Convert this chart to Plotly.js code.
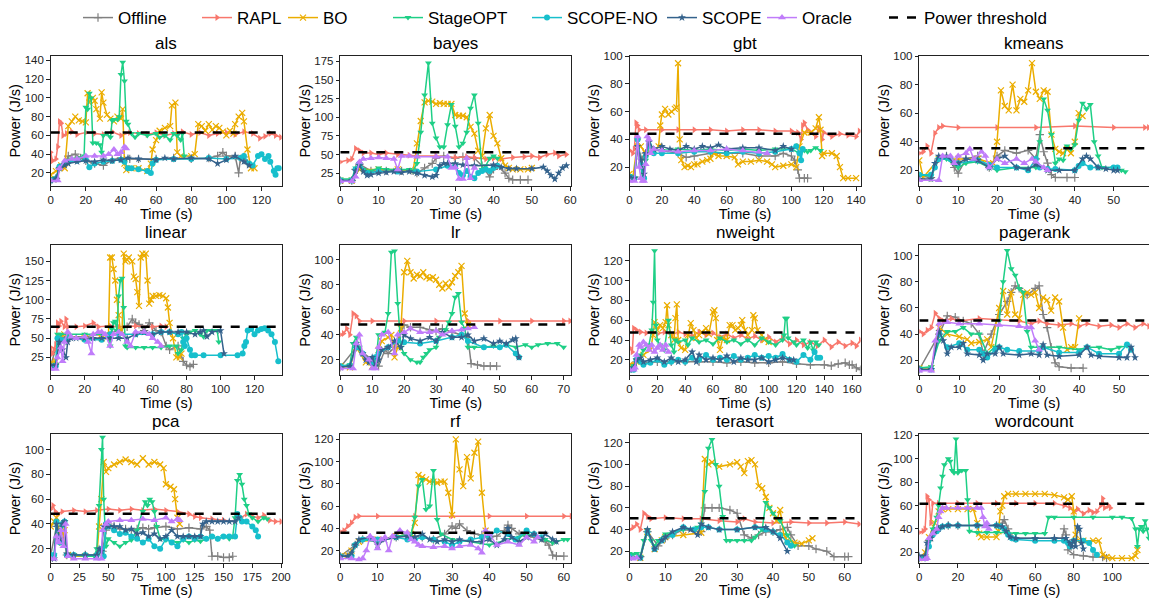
<!DOCTYPE html>
<html><head><meta charset="utf-8">
<script src="https://cdn.plot.ly/plotly-3.0.1.min.js"></script>
<style>html,body{margin:0;padding:0;background:#fff}#chart{width:1149px;height:598px}</style>
</head><body><div id="chart"></div>
<script>
const workloads = ['als','bayes','gbt','kmeans','linear','lr','nweight','pagerank','pca','rf','terasort','wordcount'];
const seriesNames = ['Offline','RAPL','BO','StageOPT','SCOPE-NO','SCOPE','Oracle'];
const thresholds = [63, 53, 44, 35.5, 65, 48.3, 47.5, 50.5, 48.3, 36, 50.5, 61.5];

// each series: [time (s), power (J/s)] pairs
const als = {
  'Offline': [[0,12],[3,14],[5,25],[8,30],[10,38],[14,40],[17,36],[20,33],[25,30],[30,28],[35,34],[40,36],[45,35],[50,35],[60,35],[70,36],[80,35],[90,36],[95,38],[98,42],[100,38],[105,38],[107,20],[108,35],[110,37],[112,30]],
  'RAPL': [[0,42],[1,33],[3,35],[4,48],[5,75],[6,73],[7,60],[9,62],[12,64],[15,61],[20,63],[25,62],[30,61],[35,64],[40,60],[45,63],[50,62],[55,61],[60,63],[65,60],[70,62],[75,64],[80,61],[85,63],[90,60],[95,62],[100,63],[105,61],[110,64],[115,62],[119,57],[122,59],[125,62],[128,60],[131,58]],
  'BO': [[0,18],[3,22],[6,28],[8,25],[10,70],[12,75],[14,80],[16,76],[18,75],[20,74],[21,105],[22,95],[24,100],[25,97],[26,88],[28,78],[29,106],[30,95],[32,82],[34,78],[36,75],[38,80],[40,78],[41,88],[42,30],[43,23],[46,25],[50,25],[55,22],[57,30],[58,45],[60,55],[62,65],[65,68],[68,70],[69,92],[71,95],[72,42],[74,38],[80,38],[82,40],[84,72],[86,70],[88,65],[90,72],[92,66],[94,70],[96,68],[98,64],[100,60],[102,65],[104,62],[105,72],[107,80],[109,84],[110,75],[112,45],[114,25],[116,25]],
  'StageOPT': [[0,14],[3,15],[5,25],[8,30],[12,35],[16,36],[19,38],[20,90],[21,88],[22,105],[23,100],[24,52],[26,52],[28,50],[29,42],[30,60],[32,62],[34,58],[35,76],[36,77],[38,77],[39,80],[40,125],[41,138],[42,118],[43,75],[44,72],[46,62],[48,58],[50,62],[55,60],[60,62],[62,58],[65,60],[68,55],[70,62],[72,60],[74,55],[75,62],[76,38]],
  'SCOPE-NO': [[0,12],[3,14],[5,27],[8,30],[10,32],[15,33],[20,34],[22,26],[25,30],[30,32],[35,33],[40,34],[42,32],[44,25],[46,25],[50,24],[55,22],[57,20],[58,30],[60,34],[70,35],[80,35],[90,36],[100,35],[108,36],[110,38],[113,30],[115,28],[118,38],[120,40],[122,35],[124,38],[125,32],[127,22],[128,18],[129,25],[130,25]],
  'SCOPE': [[0,12],[3,14],[5,25],[8,28],[10,30],[15,32],[20,33],[25,32],[30,34],[35,33],[40,34],[44,36],[50,35],[60,34],[65,36],[70,35],[80,36],[90,35],[95,30],[100,34],[105,38],[110,32],[113,28]],
  'Oracle': [[0,12],[4,12],[5,25],[8,33],[12,35],[15,35],[20,38],[25,38],[30,38],[33,40],[36,45],[38,40],[40,42],[42,48],[43,46]]
};
const bayes = {
  'Offline': [[0,15],[3,15],[4,30],[5,37],[8,28],[12,28],[16,28],[19,28],[20,25],[22,32],[24,38],[25,45],[27,48],[30,45],[32,47],[35,45],[37,35],[39,20],[40,30],[41,35],[43,25],[44,18],[45,16],[47,16],[49,16]],
  'RAPL': [[0,40],[2,42],[3,44],[4,58],[5,55],[6,52],[8,52],[10,50],[12,52],[15,50],[18,49],[20,48],[25,48],[30,46],[33,47],[35,46],[38,44],[40,45],[42,44],[45,46],[48,47],[50,48],[52,46],[54,50],[56,52],[57,48],[59,50]],
  'BO': [[0,15],[3,15],[5,30],[10,30],[15,30],[19,28],[20,65],[21,95],[22,120],[23,122],[24,121],[25,118],[26,119],[27,118],[28,118],[29,118],[30,103],[31,102],[32,102],[33,100],[34,87],[35,78],[36,55],[37,48],[38,85],[39,103],[40,75],[41,65],[42,45],[43,35],[44,32],[45,30],[47,30],[49,30],[50,32]],
  'StageOPT': [[0,17],[3,17],[4,32],[5,38],[6,30],[8,28],[10,32],[12,30],[15,30],[18,30],[19,28],[20,38],[21,80],[22,130],[23,173],[24,92],[25,72],[26,60],[27,60],[28,90],[29,117],[30,88],[31,60],[32,65],[33,80],[34,112],[35,130],[36,92],[37,30],[38,35],[39,45],[40,48],[41,45]],
  'SCOPE-NO': [[0,15],[3,15],[4,30],[5,38],[7,25],[10,27],[15,27],[20,27],[25,30],[28,35],[30,35],[31,25],[32,22],[33,28],[34,20],[35,18],[36,25],[37,28],[38,30],[39,28],[40,32],[41,35]],
  'SCOPE': [[0,15],[3,15],[4,28],[5,35],[6,27],[7,22],[8,23],[10,25],[12,26],[14,27],[16,26],[18,27],[20,25],[22,22],[24,20],[25,22],[26,35],[27,38],[28,38],[30,38],[32,36],[35,35],[40,36],[42,33],[44,31],[46,31],[50,31],[53,33],[54,28],[55,22],[56,17],[57,25],[58,32],[59,35]],
  'Oracle': [[0,14],[3,14],[4,20],[5,40],[6,44],[8,45],[10,46],[12,45],[14,44],[15,30],[16,48],[18,48],[20,47],[25,47],[28,47],[29,32],[30,33],[31,17],[32,17],[33,45],[34,18],[35,32]]
};
const gbt = {
  'Offline': [[0,14],[3,13],[5,35],[8,25],[10,30],[15,32],[20,32],[30,30],[35,27],[40,28],[50,30],[60,30],[70,30],[80,28],[90,28],[95,30],[100,28],[102,25],[104,18],[105,12],[108,12],[110,12]],
  'RAPL': [[0,32],[2,30],[3,33],[4,52],[5,50],[6,47],[10,47],[20,47],[30,47],[40,47],[50,47],[60,46],[70,47],[80,47],[90,46],[100,46],[104,45],[106,40],[107,50],[108,52],[110,47],[112,45],[115,42],[117,48],[119,40],[120,45],[125,42],[130,44],[135,43],[140,42],[142,46]],
  'BO': [[0,15],[2,12],[5,38],[7,35],[10,30],[15,32],[18,35],[19,50],[20,58],[22,62],[24,58],[26,60],[28,62],[29,63],[30,95],[31,40],[32,25],[34,20],[36,21],[38,20],[40,22],[42,22],[45,24],[48,25],[50,26],[52,30],[55,28],[60,28],[65,27],[67,22],[70,24],[75,24],[80,25],[85,24],[88,22],[90,20],[95,21],[100,22],[103,20],[105,35],[108,45],[112,45],[115,48],[117,56],[118,47],[119,28],[120,30],[125,30],[128,28],[130,20],[132,12],[135,12],[140,12]],
  'StageOPT': [[0,14],[3,12],[5,40],[7,20],[8,12],[10,25],[12,35],[15,33],[20,32],[30,33],[40,32],[50,33],[60,32],[70,33],[80,32],[90,33],[100,33],[105,30],[108,32],[110,31],[112,32],[115,34],[118,32]],
  'SCOPE-NO': [[0,13],[3,12],[5,40],[7,22],[9,12],[10,28],[12,36],[15,30],[20,30],[30,30],[40,31],[50,31],[60,30],[70,31],[80,30],[90,31],[100,33],[103,35],[105,30],[106,25],[107,33]],
  'SCOPE': [[0,13],[3,12],[5,35],[7,25],[9,15],[10,30],[12,38],[15,33],[20,35],[25,33],[30,32],[35,35],[40,33],[45,35],[50,34],[55,36],[60,33],[70,34],[80,34],[90,32],[95,35],[100,33]],
  'Oracle': [[0,10],[3,10],[5,42],[6,20],[7,12],[8,10],[9,10],[10,22],[11,42],[12,40],[13,30],[15,33],[20,32],[30,31],[40,32],[50,32],[60,33],[70,32],[80,31],[85,30]]
};
const kmeans = {
  'Offline': [[0,16],[3,15],[5,28],[7,30],[9,22],[10,18],[12,28],[15,30],[18,22],[20,30],[22,34],[25,32],[28,34],[30,28],[31,45],[32,33],[33,25],[34,17],[35,15],[38,15],[40,15]],
  'RAPL': [[0,32],[1,33],[2,37],[3,32],[4,46],[5,50],[6,51],[10,50],[20,50],[30,50],[40,51],[50,50],[58,50],[59,50]],
  'BO': [[0,27],[1,15],[5,28],[10,28],[15,28],[19,25],[20,40],[21,76],[22,65],[23,62],[24,80],[25,62],[26,70],[27,68],[28,76],[29,95],[30,75],[31,70],[32,76],[33,75],[34,45],[35,35],[36,33],[37,32],[38,35],[39,32],[40,40],[41,60],[42,58]],
  'StageOPT': [[0,17],[3,16],[5,28],[7,28],[10,22],[12,25],[15,26],[18,22],[20,20],[25,22],[30,22],[31,40],[32,70],[33,62],[34,45],[35,25],[36,28],[37,27],[38,37],[39,35],[40,38],[41,55],[42,67],[43,63],[44,66],[45,40],[46,30],[47,22],[50,22],[52,20],[53,19]],
  'SCOPE-NO': [[0,17],[3,17],[4,22],[5,28],[8,28],[10,25],[15,27],[18,24],[20,22],[25,22],[28,20],[30,28],[31,22],[33,21],[35,21],[40,20],[41,23],[42,25],[44,22],[46,22],[50,22],[51,22]],
  'SCOPE': [[0,14],[3,14],[4,25],[5,30],[7,30],[9,25],[10,25],[12,28],[15,27],[18,22],[20,28],[22,30],[25,22],[28,21],[30,24],[33,20],[36,20],[40,20],[42,28],[43,30],[44,28],[46,22],[48,21],[50,20],[51,20]],
  'Oracle': [[0,13],[5,13],[6,30],[8,30],[9,25],[10,30],[12,32],[13,35],[14,28],[16,33],[17,30],[18,22],[20,28],[22,25],[25,28],[27,25],[29,28],[30,26],[32,22],[33,20]]
};
const linear = {
  'Offline': [[0,15],[5,50],[10,52],[20,52],[30,55],[40,60],[45,65],[48,75],[50,70],[52,68],[55,60],[58,70],[60,65],[62,60],[65,58],[68,40],[70,35],[75,40],[78,20],[80,15],[82,13],[84,16]],
  'RAPL': [[0,38],[1,30],[2,35],[3,42],[4,70],[5,66],[6,72],[8,65],[9,75],[10,65],[15,65],[20,66],[25,70],[28,65],[35,66],[40,65],[50,66],[60,65],[65,66],[68,65]],
  'BO': [[0,18],[3,20],[5,50],[8,55],[10,52],[20,50],[30,50],[34,52],[35,155],[36,155],[37,140],[38,125],[39,100],[40,80],[41,60],[42,55],[43,160],[44,150],[45,152],[46,155],[48,150],[49,130],[50,127],[51,110],[52,92],[53,155],[54,160],[55,157],[56,160],[57,125],[58,95],[59,100],[60,105],[62,105],[64,106],[66,105],[68,102],[69,90],[70,70],[72,50],[74,25],[76,25],[77,30]],
  'StageOPT': [[0,15],[3,16],[4,55],[6,55],[10,55],[20,55],[30,55],[34,54],[35,40],[36,62],[37,70],[38,72],[39,60],[40,105],[41,125],[42,128],[43,90],[44,40],[45,38],[50,38],[55,38],[60,38],[65,38],[70,40],[74,40],[75,30],[77,35],[78,50],[80,55],[82,58],[85,60],[88,55],[90,52],[92,60],[95,60],[98,60],[99,45]],
  'SCOPE-NO': [[0,12],[3,14],[4,50],[6,48],[10,50],[20,48],[30,48],[35,55],[40,55],[50,55],[60,55],[65,58],[70,58],[75,55],[77,58],[78,45],[79,40],[80,50],[82,35],[83,28],[85,28],[90,28],[100,28],[110,28],[113,30],[114,40],[115,45],[116,60],[118,62],[120,55],[122,60],[124,62],[126,63],[128,60],[130,55],[132,45],[134,20]],
  'SCOPE': [[0,15],[3,15],[5,45],[7,35],[9,25],[10,45],[12,50],[15,50],[20,50],[25,50],[30,50],[35,50],[40,50],[45,50],[50,55],[55,58],[60,55],[65,58],[70,58],[75,58],[80,58],[85,55],[88,58],[90,60],[92,52],[95,58],[100,60],[102,30]],
  'Oracle': [[0,10],[3,10],[4,25],[6,38],[7,20],[8,45],[10,58],[12,52],[15,50],[20,52],[22,45],[24,30],[25,55],[28,58],[30,58],[32,55],[35,40],[37,55],[40,58],[42,55],[45,45],[47,40],[50,58],[55,58],[58,55],[60,50],[63,45],[65,40]]
};
const lr = {
  'Offline': [[0,14],[5,30],[10,20],[12,15],[14,28],[15,25],[17,30],[20,48],[22,46],[25,46],[28,44],[30,43],[32,45],[35,42],[38,40],[40,38],[41,17],[43,16],[45,15],[47,15],[49,15]],
  'RAPL': [[0,40],[1,41],[2,45],[3,40],[4,57],[5,55],[6,51],[10,51],[20,51],[30,51],[40,51],[50,51],[60,51],[70,51],[72,51]],
  'BO': [[0,15],[3,14],[5,30],[8,18],[10,15],[12,28],[13,35],[15,38],[16,40],[17,22],[18,30],[19,45],[20,90],[21,99],[22,90],[23,85],[24,88],[25,87],[26,90],[27,86],[28,85],[29,86],[30,84],[31,80],[32,77],[33,81],[34,78],[35,82],[36,87],[37,90],[38,95],[39,57],[40,48]],
  'StageOPT': [[0,15],[3,16],[4,33],[5,38],[6,30],[7,25],[9,20],[10,18],[11,15],[12,40],[14,42],[15,57],[16,106],[17,107],[18,65],[19,30],[20,25],[22,20],[24,18],[25,18],[26,22],[27,25],[28,28],[30,30],[31,38],[33,44],[34,50],[35,57],[36,70],[37,73],[38,50],[39,45],[40,30],[42,30],[45,30],[48,31],[50,30],[52,32],[55,30],[58,32],[60,30],[62,32],[65,33],[68,33],[70,30]],
  'SCOPE-NO': [[0,15],[3,15],[5,30],[7,25],[9,20],[10,17],[11,22],[12,25],[15,30],[18,35],[20,34],[25,33],[30,35],[35,38],[38,40],[40,35],[45,30],[50,30],[52,32],[55,25],[56,22]],
  'SCOPE': [[0,14],[3,15],[5,33],[7,25],[8,20],[9,18],[10,22],[11,15],[12,20],[13,28],[15,30],[17,35],[19,30],[20,40],[22,37],[25,35],[28,38],[30,35],[32,42],[35,38],[38,38],[40,40],[42,35],[45,37],[48,33],[50,35],[52,33],[54,36],[55,37],[56,22]],
  'Oracle': [[0,13],[4,13],[5,33],[6,40],[7,25],[9,20],[10,13],[11,13],[12,30],[13,40],[15,42],[17,25],[18,40],[20,42],[22,45],[25,42],[28,42],[30,43],[32,40],[35,43],[38,44],[40,45],[42,46]]
};
const nweight = {
  'Offline': [[0,12],[5,18],[10,17],[20,18],[30,18],[40,18],[50,18],[60,18],[70,17],[80,18],[90,17],[100,17],[110,18],[120,16],[130,15],[140,15],[145,14],[150,16],[155,17],[158,15],[160,15],[163,12],[166,10]],
  'RAPL': [[0,32],[2,28],[3,52],[5,50],[8,48],[12,47],[16,48],[20,46],[25,48],[30,45],[35,48],[40,46],[45,44],[50,48],[55,45],[60,47],[65,43],[70,46],[75,42],[80,45],[85,41],[90,44],[95,40],[100,43],[105,38],[110,42],[115,36],[120,40],[125,35],[130,38],[135,34],[140,40],[145,33],[150,38],[155,34],[160,37],[163,34],[166,40]],
  'BO': [[0,15],[5,18],[10,25],[15,30],[17,45],[18,58],[20,50],[22,55],[24,52],[26,58],[27,75],[28,55],[30,45],[32,40],[33,62],[34,76],[35,40],[37,32],[40,30],[42,45],[44,57],[46,50],[48,42],[50,45],[52,48],[55,52],[57,46],[60,68],[61,70],[62,62],[63,40],[65,30],[67,42],[70,40],[72,55],[74,55],[76,50],[78,52],[80,55],[81,60],[83,50],[85,45],[88,50],[89,65],[90,62],[92,50],[95,45],[97,40],[100,38]],
  'StageOPT': [[0,12],[3,14],[5,20],[8,25],[10,30],[14,35],[16,50],[17,78],[18,130],[19,55],[20,40],[22,35],[25,30],[28,60],[30,35],[32,28],[33,40],[35,38],[40,40],[42,35],[45,42],[50,38],[55,40],[60,36],[65,42],[70,38],[75,40],[80,36],[85,40],[90,35],[95,42],[100,38],[105,35],[110,40],[111,45],[112,62],[113,62],[114,42],[118,38],[120,35],[125,40],[128,32],[130,38],[132,30],[134,38],[136,35]],
  'SCOPE-NO': [[0,10],[3,10],[5,20],[8,18],[10,15],[15,17],[20,20],[25,15],[30,18],[35,20],[40,18],[45,22],[50,20],[55,25],[60,20],[65,22],[70,20],[75,24],[80,20],[85,22],[90,25],[95,22],[100,24],[105,22],[110,26],[115,20],[120,18],[125,25],[130,20],[133,28],[135,22],[137,22]],
  'SCOPE': [[0,10],[3,12],[5,20],[8,22],[10,18],[15,20],[20,22],[25,18],[30,22],[35,18],[40,20],[45,28],[48,18],[50,25],[55,20],[60,22],[65,20],[70,24],[75,18],[80,22],[85,20],[90,20],[95,22],[100,18],[105,20],[110,22],[115,20],[118,20]],
  'Oracle': [[0,10],[3,10],[4,12],[5,25],[7,35],[8,33],[10,38],[12,35],[14,30],[16,35],[18,28],[20,32],[22,35],[24,30],[26,35],[28,28]]
};
const pagerank = {
  'Offline': [[0,13],[5,40],[7,54],[9,53],[11,50],[13,48],[15,40],[16,25],[18,40],[20,55],[22,65],[23,72],[24,77],[25,75],[27,70],[29,75],[30,77],[31,55],[32,45],[33,30],[34,18],[35,15],[38,14],[41,14]],
  'RAPL': [[0,42],[1,40],[2,43],[3,45],[4,56],[5,52],[6,50],[8,52],[10,50],[15,52],[20,51],[25,50],[28,48],[30,50],[32,48],[35,47],[38,48],[40,46],[42,48],[45,46],[48,47],[50,45],[52,48],[54,45],[56,48],[57.5,46]],
  'BO': [[0,14],[3,14],[5,45],[7,40],[10,38],[12,36],[13,33],[15,34],[17,36],[18,30],[20,60],[21,73],[22,55],[23,72],[24,55],[25,52],[26,70],[27,72],[28,70],[29,72],[30,60],[31,68],[32,66],[33,58],[34,68],[35,65],[36,45],[37,28],[38,30],[39,30],[40,52]],
  'StageOPT': [[0,14],[3,15],[5,35],[7,42],[9,42],[11,45],[13,40],[15,40],[17,25],[19,30],[20,50],[21,80],[22,104],[23,90],[24,85],[25,75],[26,72],[27,42],[28,30],[30,30],[35,30],[40,28],[42,30],[45,30],[48,28],[50,30],[52,31]],
  'SCOPE-NO': [[0,13],[3,13],[5,40],[7,30],[10,33],[12,28],[15,28],[16,25],[17,22],[19,28],[20,30],[22,28],[25,27],[30,27],[31,30],[35,26],[40,26],[42,30],[45,25],[50,25],[52,32],[53,28]],
  'SCOPE': [[0,13],[3,13],[5,42],[6,35],[7,25],[8,30],[10,30],[11,33],[12,25],[15,24],[16,20],[17,25],[19,25],[20,30],[21,25],[25,24],[28,25],[30,24],[31,32],[32,24],[35,23],[40,24],[42,30],[43,24],[45,23],[50,22],[52,22],[53,30],[54,22]],
  'Oracle': [[0,12],[3,12],[4,35],[5,48],[7,49],[10,48],[15,48],[20,47],[25,46],[27,45],[28,45],[29,35],[30,28]]
};
const pca = {
  'Offline': [[0,15],[5,38],[10,35],[14,15],[30,15],[40,15],[45,18],[48,35],[50,40],[55,38],[60,36],[65,36],[70,35],[75,36],[80,37],[85,36],[90,37],[100,38],[110,36],[120,37],[130,36],[135,38],[138,35],[140,14],[145,14],[150,13],[155,13],[158,14]],
  'RAPL': [[0,52],[2,55],[4,50],[6,48],[10,50],[20,51],[30,50],[40,51],[50,52],[60,51],[70,52],[80,51],[90,52],[100,51],[110,50],[120,48],[125,46],[130,45],[140,44],[150,43],[160,42],[165,45],[170,48],[175,46],[180,45],[185,47],[190,43],[195,42],[200,42]],
  'BO': [[0,38],[3,42],[5,45],[8,30],[10,25],[12,35],[15,15],[20,14],[30,14],[40,14],[42,38],[44,60],[46,90],[48,82],[50,85],[55,88],[60,90],[65,92],[70,90],[75,88],[80,93],[85,88],[90,90],[95,88],[98,85],[100,72],[104,70],[107,68],[108,60],[110,45],[112,40]],
  'StageOPT': [[0,15],[3,15],[5,40],[8,25],[10,38],[12,42],[14,15],[20,15],[30,14],[38,14],[40,20],[42,55],[44,100],[45,110],[46,60],[48,22],[50,28],[55,25],[60,22],[65,25],[70,27],[75,35],[80,50],[82,58],[84,55],[86,60],[88,58],[90,50],[92,38],[95,28],[100,27],[105,26],[110,25],[115,27],[120,25],[125,27],[130,26],[135,28],[140,30],[145,28],[150,30],[155,28],[158,30],[160,45],[162,75],[164,80],[166,72],[168,60],[170,55],[172,48],[175,45],[180,42],[185,45],[188,44]],
  'SCOPE-NO': [[0,15],[3,15],[5,42],[8,25],[10,40],[12,42],[14,15],[20,15],[30,15],[40,15],[44,20],[46,14],[48,40],[50,38],[55,35],[60,32],[65,33],[70,30],[75,28],[80,25],[85,28],[90,22],[95,20],[100,28],[105,25],[110,22],[115,28],[120,30],[125,28],[130,30],[135,28],[140,30],[145,28],[150,30],[155,30],[160,30],[162,48],[164,45],[166,42],[170,42],[175,38],[178,35],[180,30]],
  'SCOPE': [[0,12],[3,12],[5,40],[8,28],[10,40],[12,42],[14,16],[20,15],[30,15],[40,15],[42,20],[44,18],[46,38],[50,38],[55,38],[60,38],[65,35],[70,36],[75,32],[80,33],[85,30],[90,32],[95,28],[100,30],[105,35],[110,30],[115,30],[120,30],[125,30],[130,30],[132,40],[135,42],[140,42],[145,42],[150,42],[155,42],[160,42],[163,45]],
  'Oracle': [[0,12],[3,12],[5,30],[7,25],[9,35],[11,22],[13,40],[15,14],[20,12],[30,12],[40,12],[44,12],[45,35],[48,40],[50,42],[60,43],[70,43],[80,44],[90,43],[100,45],[105,42],[110,44],[112,43]]
};
const rf = {
  'Offline': [[0,15],[4,25],[6,30],[10,28],[15,32],[18,35],[20,33],[22,32],[25,30],[28,35],[30,42],[31,40],[32,44],[34,38],[36,35],[38,34],[40,32],[42,33],[44,38],[45,43],[46,40],[48,35],[50,34],[52,32],[55,28],[56,25],[57,16],[58,15],[60,15]],
  'RAPL': [[0,37],[1,38],[2,42],[3,45],[4,50],[5,51],[10,51],[20,51],[30,51],[40,51],[50,51],[60,51],[62,51]],
  'BO': [[0,15],[2,16],[3,20],[5,28],[10,30],[15,33],[19,35],[20,45],[21,88],[22,86],[23,84],[24,82],[25,82],[26,81],[27,82],[28,82],[29,72],[30,52],[31,120],[32,93],[33,78],[34,104],[35,85],[36,108],[37,118],[38,72],[39,38]],
  'StageOPT': [[0,15],[3,15],[4,25],[6,30],[10,28],[15,32],[18,35],[19,35],[20,50],[21,78],[22,84],[23,57],[24,60],[25,92],[26,48],[27,35],[30,30],[35,28],[40,25],[45,30],[48,32],[50,35],[55,30],[57,27],[58,28],[60,30],[61,30]],
  'SCOPE-NO': [[0,15],[3,15],[4,25],[6,30],[10,30],[15,32],[18,30],[20,30],[22,32],[25,30],[28,28],[30,25],[32,28],[35,30],[38,32],[40,33],[42,38],[45,35],[47,30],[50,38],[52,35],[54,32]],
  'SCOPE': [[0,15],[2,15],[3,18],[4,25],[5,30],[8,32],[10,25],[12,30],[15,32],[18,33],[20,32],[22,35],[24,30],[26,28],[28,30],[30,28],[32,30],[35,28],[38,28],[40,30],[42,25],[44,30],[45,40],[46,32],[48,28],[50,32],[52,35],[54,30],[55,35],[57,30],[58,28]],
  'Oracle': [[0,13],[3,13],[5,12],[6,13],[7,20],[8,33],[9,30],[10,22],[11,30],[12,32],[13,20],[14,33],[16,38],[18,36],[19,30],[20,28],[21,25],[22,24],[25,23],[28,24],[30,22],[32,24],[35,25],[37,22],[38,18],[39,38],[40,35],[42,25],[45,28],[48,25],[50,32],[52,28],[53,32]]
};
const terasort = {
  'Offline': [[0,15],[3,15],[5,38],[8,25],[10,32],[12,35],[15,40],[20,38],[21,60],[23,60],[25,60],[28,58],[30,55],[32,35],[34,32],[36,35],[38,38],[40,38],[42,40],[44,42],[45,35],[47,25],[50,25],[52,22],[55,20],[57,15],[60,15],[61,15]],
  'RAPL': [[0,40],[1,42],[2,45],[3,40],[4,55],[5,52],[6,50],[10,51],[15,50],[20,50],[25,48],[30,47],[32,50],[35,47],[40,46],[45,47],[50,46],[55,46],[60,47],[64,45]],
  'BO': [[0,15],[3,14],[5,38],[7,22],[9,30],[10,33],[15,35],[20,37],[21,105],[22,100],[23,102],[25,98],[28,100],[30,102],[31,98],[32,92],[33,103],[34,104],[35,100],[36,80],[37,78],[38,70],[39,60],[40,55],[41,48],[42,58],[43,35],[44,30],[46,28],[48,27],[50,30],[51,32]],
  'StageOPT': [[0,18],[1,17],[2,18],[3,15],[4,30],[5,40],[6,30],[7,25],[8,30],[10,36],[15,40],[19,42],[20,45],[21,75],[22,115],[23,123],[24,100],[25,80],[26,52],[27,30],[28,30],[30,30],[32,30],[34,30],[35,33],[37,40],[38,65],[39,60],[40,55],[42,48],[44,35],[46,25]],
  'SCOPE-NO': [[0,15],[3,14],[5,38],[7,22],[9,30],[12,35],[15,42],[18,40],[20,42],[22,42],[25,40],[30,40],[35,42],[38,40],[40,38],[42,35],[44,28],[45,25]],
  'SCOPE': [[0,14],[3,14],[5,40],[7,22],[9,30],[10,33],[12,38],[15,42],[17,40],[19,35],[20,45],[22,42],[25,40],[30,40],[35,42],[38,42],[40,38],[42,32],[44,20]],
  'Oracle': [[0,14],[1,13],[2,14]]
};
const wordcount = {
  'Offline': [[0,15],[3,16],[5,30],[8,38],[10,40],[15,43],[20,43],[30,43],[40,43],[43,45],[44,48],[46,40],[48,33],[50,32],[60,32],[70,32],[74,32],[75,40],[76,35],[77,22],[80,18],[85,17],[90,16],[95,16],[97,15]],
  'RAPL': [[0,37],[2,38],[3,40],[4,68],[5,65],[6,45],[7,62],[10,62],[20,62],[30,62],[40,62],[50,62],[60,62],[70,62],[75,60],[78,58],[80,55],[82,57],[85,53],[88,56],[90,54],[92,55],[94,60],[95,66],[96,58],[98,60],[99,58]],
  'BO': [[0,15],[3,20],[5,33],[8,45],[10,55],[12,57],[15,57],[20,57],[25,57],[28,57],[30,45],[31,36],[32,33],[35,33],[40,33],[41,38],[42,55],[43,60],[44,68],[46,70],[50,70],[55,70],[60,70],[65,70],[70,69],[75,67],[77,65],[79,68],[80,55],[81,35],[82,30],[85,30],[90,30],[93,30],[95,18],[97,16],[100,15],[105,15],[110,15],[112,17],[113,22]],
  'StageOPT': [[0,15],[3,16],[5,30],[7,40],[9,50],[10,60],[11,75],[12,85],[13,95],[15,100],[16,98],[17,90],[18,88],[19,117],[20,88],[21,90],[22,90],[24,90],[25,65],[26,38],[30,37],[35,37],[40,37],[45,37],[50,36],[55,36],[60,36],[65,36],[67,50],[70,50],[80,50],[90,50],[100,50],[105,50],[110,49],[112,40],[113,25],[114,40],[115,42],[116,38],[117,47],[118,40],[119,32]],
  'SCOPE-NO': [[0,15],[3,15],[5,25],[7,35],[9,38],[10,40],[12,42],[15,43],[20,43],[30,43],[40,43],[42,42],[44,40],[46,35],[48,32],[50,31],[60,30],[70,30],[75,30],[77,28],[78,25],[80,30],[85,30],[88,28],[90,22],[92,18]],
  'SCOPE': [[0,17],[3,17],[4,28],[6,32],[8,38],[10,40],[12,42],[15,43],[20,43],[30,43],[40,43],[43,42],[45,38],[47,33],[50,32],[60,32],[70,32],[76,32],[78,28],[79,25],[80,30],[81,25],[82,42],[83,40],[84,28],[85,23]],
  'Oracle': [[0,14],[3,14],[4,15],[5,32],[7,36],[9,40],[10,50],[11,55],[12,58],[14,58],[20,58],[25,58],[30,58],[32,58],[33,50],[34,42],[35,45],[36,40]]
};
const workloadData = [als, bayes, gbt, kmeans, linear, lr, nweight, pagerank, pca, rf, terasort, wordcount];

// ---- styling / layout (not data) ----
const styles = {
  'Offline':  {color:'#808080', symbol:'cross-thin', size:6, lw:1.2},
  'RAPL':     {color:'#f8776c', symbol:'triangle-right', size:6},
  'BO':       {color:'#ebad00', symbol:'x-thin', size:6, lw:1.2},
  'StageOPT': {color:'#1ecf86', symbol:'triangle-down', size:6},
  'SCOPE-NO': {color:'#17bfcc', symbol:'circle', size:6},
  'SCOPE':    {color:'#34628c', symbol:'star', size:6},
  'Oracle':   {color:'#c07cfa', symbol:'triangle-up', size:7}
};
const axisCfg = [
  {xr:[0,131.5], yr:[6,145],     dx:20, dy:20},
  {xr:[0,60.3],  yr:[7.6,182.6], dx:10, dy:25},
  {xr:[0,142.7], yr:[6.3,100.4], dx:20, dy:20},
  {xr:[0,59.1],  yr:[9,100.2],   dx:10, dy:20},
  {xr:[0,136],   yr:[2,171.5],   dx:20, dy:25},
  {xr:[0,72.4],  yr:[7.8,111.9], dx:10, dy:20},
  {xr:[0,166],   yr:[4.6,136],   dx:20, dy:20},
  {xr:[0,57.5],  yr:[8.6,108.4], dx:10, dy:20},
  {xr:[0,200.5], yr:[8.4,112.7], dx:25, dy:20},
  {xr:[0,62],    yr:[8.7,125],   dx:10, dy:20},
  {xr:[0,64.4],  yr:[9,128.2],   dx:10, dy:20},
  {xr:[0,119],   yr:[10.7,121.4],dx:20, dy:20}
];
const W = 1149, H = 598;
const colLeft = [50.7, 340.3, 629.5, 919.3], boxW = 231;
const rowTop = [53, 243, 433], rowBot = [184, 374, 563];
const FONT = 'Liberation Sans, Arial, sans-serif';
// legend entry left edges (px), one legend box per entry
const legendX = [78, 197, 283, 388, 527, 662, 762, 884];
const legendIds = ['legend','legend2','legend3','legend4','legend5','legend6','legend7','legend8'];

const traces = [];
const layout = {
  width: W, height: H, margin: {l:0, r:0, t:0, b:0},
  paper_bgcolor: '#fff', plot_bgcolor: '#fff',
  font: {family: FONT, color: '#000', size: 12},
  showlegend: true,
  annotations: []
};
legendIds.forEach((id, k) => {
  layout[id] = {orientation:'h', x:legendX[k]/W, y:1.005, xanchor:'left', yanchor:'top',
    font:{size:17, family:FONT}, bgcolor:'rgba(0,0,0,0)', borderwidth:0, itemwidth:30};
});

workloads.forEach((name, i) => {
  const r = Math.floor(i/4), c = i % 4;
  const sfx = i === 0 ? '' : String(i+1);
  const xa = 'x' + sfx, ya = 'y' + sfx;
  const d = workloadData[i], cfg = axisCfg[i];
  const x0 = colLeft[c]/W, x1 = Math.min(1, (colLeft[c]+boxW)/W);
  const y0 = 1 - rowBot[r]/H, y1 = 1 - rowTop[r]/H;
  const common = {showline:true, mirror:true, linecolor:'#222', linewidth:1, ticks:'outside',
    ticklen:3.5, tickwidth:1, tickcolor:'#222', showgrid:false, zeroline:false,
    tickfont:{size:11.5, family:FONT, color:'#222'}};
  layout['xaxis'+sfx] = Object.assign({}, common, {domain:[x0,x1], anchor:ya, range:cfg.xr,
    tick0:0, dtick:cfg.dx, title:{text:'Time (s)', font:{size:14.5, family:FONT}, standoff:3}});
  layout['yaxis'+sfx] = Object.assign({}, common, {domain:[y0,y1], anchor:xa, range:cfg.yr,
    tick0:0, dtick:cfg.dy, title:{text:'Power (J/s)', font:{size:14.5, family:FONT}, standoff:0}});
  layout.annotations.push({text:name, xref:'paper', yref:'paper', x:(x0+x1)/2, y:y1,
    xanchor:'center', yanchor:'bottom', yshift:1, showarrow:false, font:{size:17, family:FONT}});
  seriesNames.forEach((s, k) => {
    const st = styles[s], pts = d[s];
    traces.push({
      type:'scatter', mode:'lines+markers', name:s, legendgroup:s, showlegend:i===0,
      legend: legendIds[k],
      xaxis:xa, yaxis:ya, x:pts.map(p=>p[0]), y:pts.map(p=>p[1]),
      line:{color:st.color, width:1.5},
      marker:{symbol:st.symbol, size:st.size, color:st.color, line:{color:st.color, width:st.lw||0}},
      cliponaxis:true
    });
  });
  traces.push({
    type:'scatter', mode:'lines', name:'Power threshold', legendgroup:'thr', showlegend:i===0,
    legend: legendIds[7],
    xaxis:xa, yaxis:ya, x:[cfg.xr[0], cfg.xr[1]], y:[thresholds[i], thresholds[i]],
    line:{color:'#000', width:2.5, dash:'dash'}
  });
});

Plotly.newPlot('chart', traces, layout, {displayModeBar:false, staticPlot:true});
</script></body></html>
